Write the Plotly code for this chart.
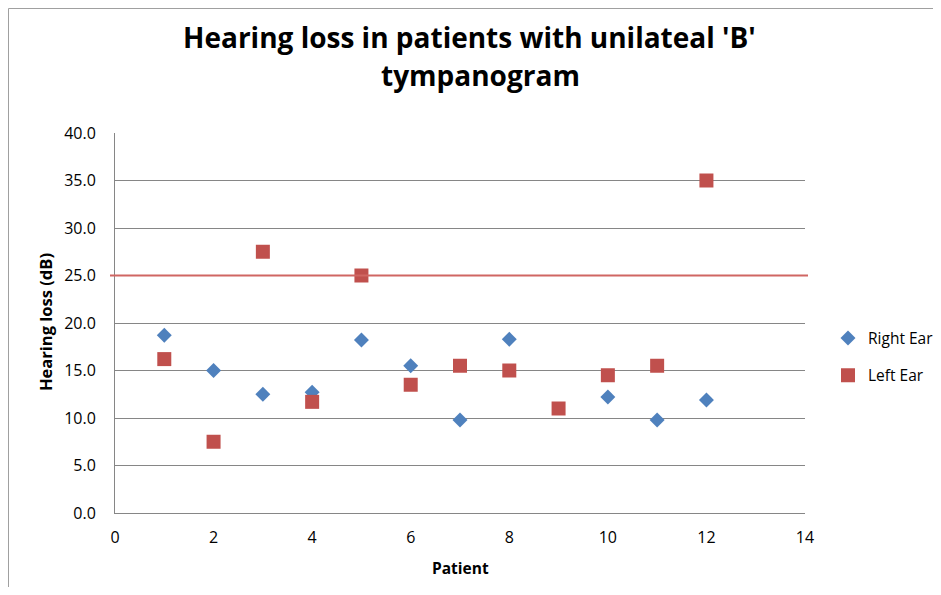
import plotly.graph_objects as go

patients_right = [1, 2, 3, 4, 5, 6, 7, 8, 10, 11, 12]
right_ear = [18.7, 15.0, 12.5, 12.7, 18.2, 15.5, 9.8, 18.3, 12.2, 9.8, 11.9]
patients_left = [1, 2, 3, 4, 5, 6, 7, 8, 9, 10, 11, 12]
left_ear = [16.2, 7.5, 27.5, 11.7, 25.0, 13.5, 15.5, 15.0, 11.0, 14.5, 15.5, 35.0]
threshold = 25.0

FONT = "Open Sans"
W, H = 925, 579
L, T, PW, PH = 107, 125, 690, 380
B = H - T - PH
R = W - L - PW


def px(xf):
    return (xf - L) / PW


def py(yf):
    return (T + PH - yf) / PH


fig = go.Figure()
fig.add_trace(go.Scatter(x=patients_right, y=right_ear, mode="markers", name="Right Ear",
                         legendgroup="r",
                         marker=dict(symbol="diamond", size=11.5, color="#4F81BD")))
fig.add_trace(go.Scatter(x=patients_left, y=left_ear, mode="markers", name="Left Ear",
                         legendgroup="l",
                         marker=dict(symbol="square", size=14, color="#C0504D")))

fig.add_shape(type="line", xref="paper", yref="y", x0=px(102), x1=px(800), y0=threshold, y1=threshold,
              line=dict(color="#D06663", width=2))
# outer chart border (top and left edges visible)
fig.add_shape(type="line", xref="paper", yref="paper",
              x0=px(0.5), x1=px(0.5), y0=py(H), y1=py(0.5),
              line=dict(color="#A0A0A0", width=1))
fig.add_shape(type="line", xref="paper", yref="paper",
              x0=px(0.5), x1=px(W), y0=py(0.5), y1=py(0.5),
              line=dict(color="#A0A0A0", width=1))

fig.add_annotation(text="<b>Hearing loss in patients with unilateal 'B'</b>", xref="paper", yref="paper",
                   x=px(462), y=py(29), xanchor="center", yanchor="middle", showarrow=False,
                   font=dict(family=FONT, size=28, color="black"))
fig.add_annotation(text="<b>tympanogram</b>", xref="paper", yref="paper",
                   x=px(472), y=py(67), xanchor="center", yanchor="middle", showarrow=False,
                   font=dict(family=FONT, size=28, color="black"))
fig.add_annotation(text="<b>Hearing loss (dB)</b>", xref="paper", yref="paper",
                   x=px(37), y=py(314), xanchor="center", yanchor="middle", showarrow=False,
                   textangle=-90, font=dict(family=FONT, size=16.5, color="black"))
fig.add_annotation(text="<b>Patient</b>", xref="paper", yref="paper",
                   x=px(452), y=py(560), xanchor="center", yanchor="middle", showarrow=False,
                   font=dict(family=FONT, size=15.5, color="black"))

fig.update_layout(
    width=W, height=H,
    margin=dict(l=L, r=R, t=T, b=B, autoexpand=False),
    paper_bgcolor="white", plot_bgcolor="white",
    font=dict(family=FONT, size=16, color="black"),
    legend=dict(x=px(820), y=py(349), xanchor="left", yanchor="middle",
                traceorder="grouped", tracegroupgap=14,
                font=dict(family=FONT, size=15.5), bgcolor="rgba(0,0,0,0)"),
    xaxis=dict(range=[0, 14], dtick=2, showgrid=False, zeroline=False, automargin=False,
               showline=True, linecolor="#868686", ticks="outside", ticklen=10,
               tickcolor="rgba(0,0,0,0)"),
    yaxis=dict(range=[0, 40], dtick=5, tickformat=".1f", showgrid=True, gridcolor="#868686",
               gridwidth=1, zeroline=False, showline=True, linecolor="#868686", automargin=False,
               ticks="outside", ticklen=15, tickcolor="rgba(0,0,0,0)"),
)

fig.write_html("out.html")
